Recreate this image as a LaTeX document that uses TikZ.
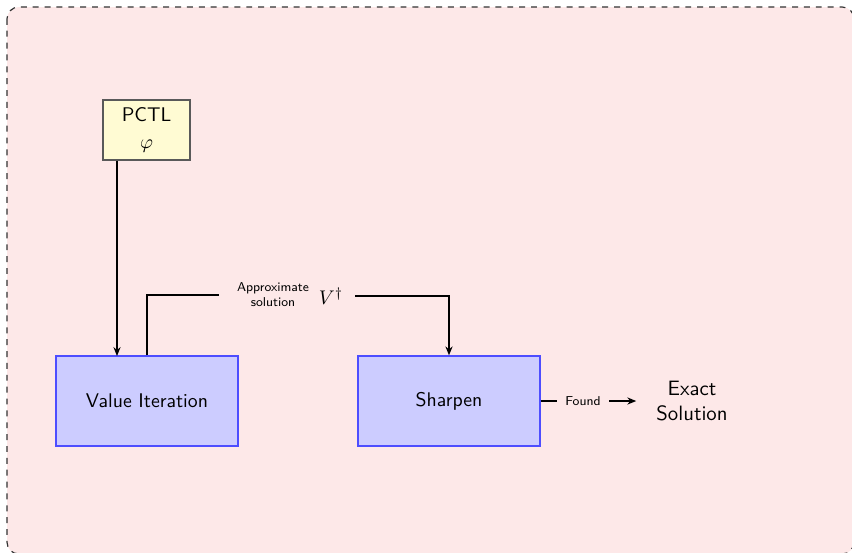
\documentclass[tikz,border=0pt]{standalone}
\usetikzlibrary{arrows.meta}
\definecolor{bgpink}{HTML}{FDE8E8}
\definecolor{pctlfill}{HTML}{FFFBD3}
\definecolor{boxfill}{HTML}{CCCCFF}
\definecolor{boxdraw}{HTML}{4D4DFF}
\begin{document}
\begin{tikzpicture}[x=0.5057pt,y=-0.5057pt,font=\sffamily,
  conn/.style={line width=0.8pt},
  arr/.style={conn,-{Stealth[length=4.5pt,width=3.6pt]}},
  procbox/.style={draw=boxdraw,fill=boxfill,line width=0.7pt,minimum width=92pt,minimum height=45.5pt},
  inputbox/.style={draw=black!65,fill=pctlfill,line width=0.7pt,minimum width=44pt,minimum height=30.3pt,align=center,inner sep=1pt},
  lbl/.style={font=\sffamily\fontsize{6.5}{7.5}\selectfont,align=center,inner sep=0pt}]
\useasboundingbox (0,0) rectangle (852,552);
\draw[fill=bgpink,draw=black!80,dashed,rounded corners=6pt,line width=0.6pt] (7,7) rectangle (854,554);
\node[inputbox] (pctl) at (146.5,130) {PCTL\\[2pt]$\varphi$};
\node[procbox] (vi) at (147,401) {Value Iteration};
\node[procbox] (sh) at (449,401) {Sharpen};
\node[align=center,inner sep=0pt,font=\sffamily\fontsize{10.5}{12.8}\selectfont] (exact) at (692,401) {Exact\\Solution};
\node[lbl] (approx) at (273,295) {Approximate\\solution};
\node[inner sep=0pt] (vdag) at (331,296) {$V^\dagger$};
\node[lbl] (found) at (583,401) {Found};
\coordinate (pin) at (117,356);
\draw[arr] (pctl.south -| pin) -- (pin);
\draw[conn] (vi.north) |- ([xshift=-9pt]approx.west);
\draw[arr] ([xshift=6pt]vdag.east) -| (sh.north);
\draw[conn] (sh.east) -- ([xshift=-4pt]found.west);
\draw[arr] ([xshift=4pt]found.east) -- ([xshift=-10pt]exact.west);
\end{tikzpicture}
\end{document}
